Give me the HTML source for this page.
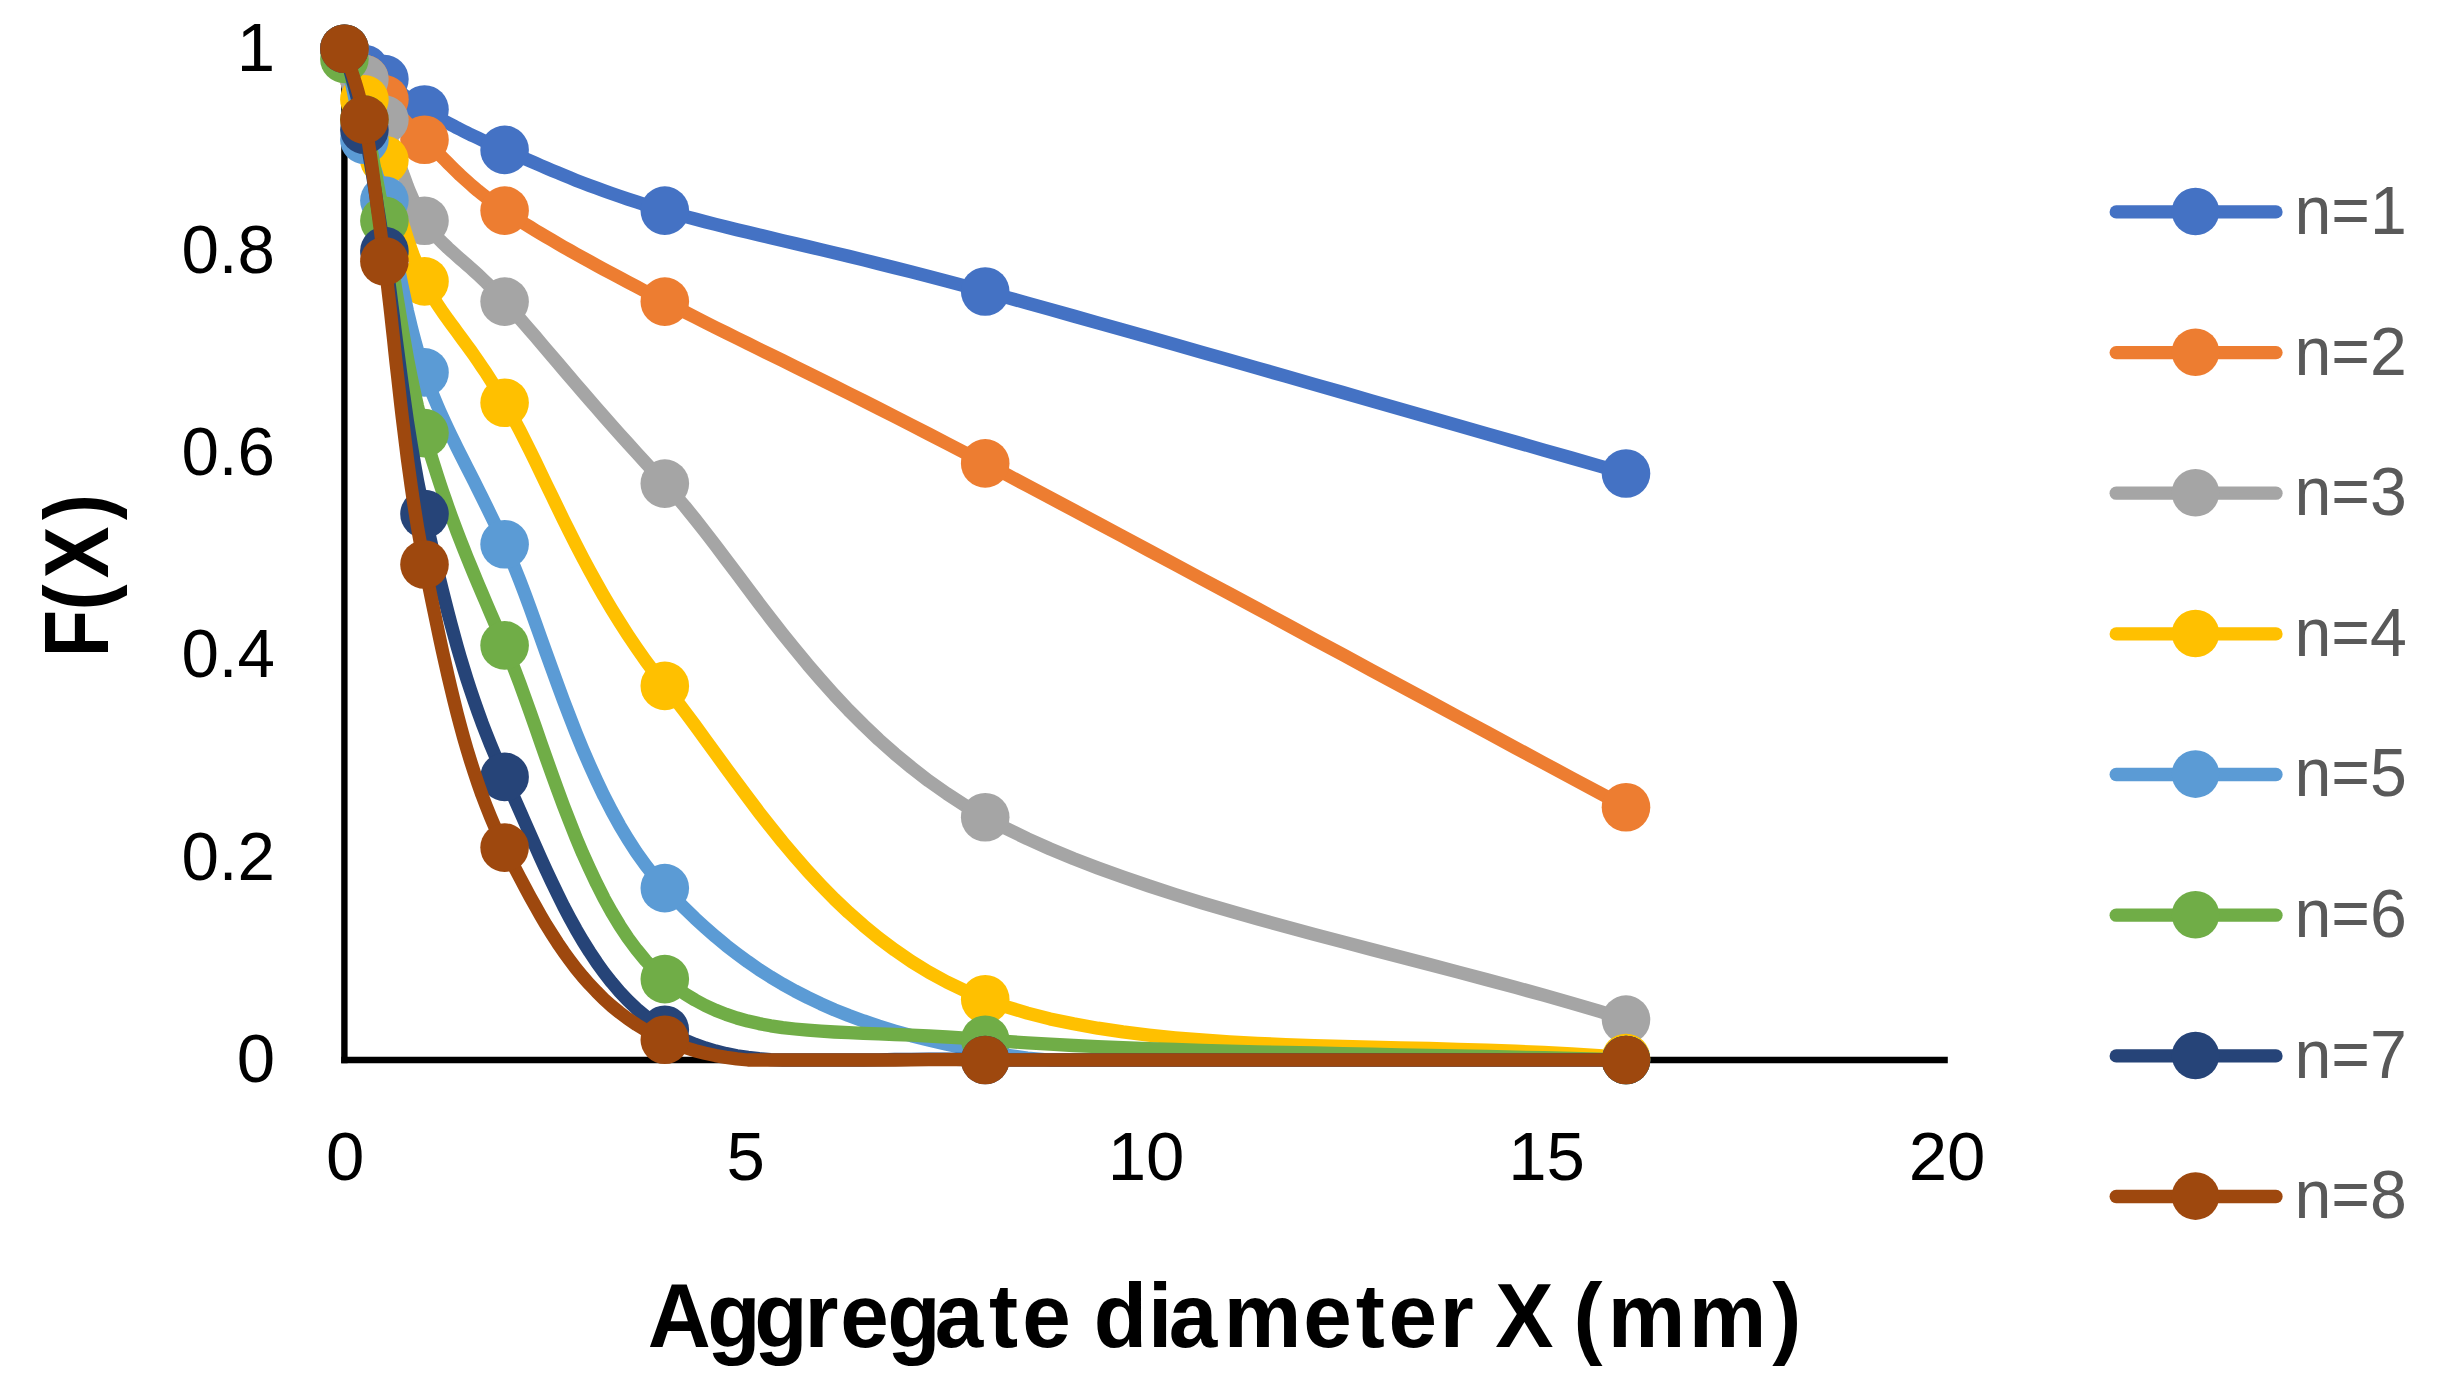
<!DOCTYPE html>
<html lang="en"><head><meta charset="utf-8"><title>F(X) vs Aggregate diameter X (mm)</title>
<style>
html,body{margin:0;padding:0;background:#fff;}
body{width:2437px;height:1379px;overflow:hidden;}
svg{display:block;}
text{font-family:"Liberation Sans",sans-serif;}
.tick{font-size:69px;fill:#000;}
.leg{font-size:69px;fill:#595959;}
.ttl{font-size:90px;font-weight:bold;fill:#000;}
</style></head><body>
<svg width="2437" height="1379" viewBox="0 0 2437 1379" role="img" aria-label="F(X) versus aggregate diameter X (mm) for n=1 to n=8">
<rect width="2437" height="1379" fill="#fff"/>
<g stroke="#000" stroke-width="6.40" fill="none" stroke-linecap="butt">
<line x1="344.4" y1="48.8" x2="344.4" y2="1063.2"/>
<line x1="341.2" y1="1060.0" x2="1947.8" y2="1060.0"/>
</g>
<g class="tick" text-anchor="end">
<text x="275.0" y="70.6">1</text>
<text x="275.0" y="272.8" textLength="93.6" lengthAdjust="spacingAndGlyphs">0.8</text>
<text x="275.0" y="475.1" textLength="93.6" lengthAdjust="spacingAndGlyphs">0.6</text>
<text x="275.0" y="677.3" textLength="93.6" lengthAdjust="spacingAndGlyphs">0.4</text>
<text x="275.0" y="879.6" textLength="93.6" lengthAdjust="spacingAndGlyphs">0.2</text>
<text x="275.0" y="1081.8">0</text>
</g>
<g class="tick" text-anchor="middle">
<text x="345.1" y="1179.6">0</text>
<text x="745.6" y="1179.6">5</text>
<text x="1146.1" y="1179.6">10</text>
<text x="1546.6" y="1179.6">15</text>
<text x="1947.1" y="1179.6">20</text>
</g>
<text class="ttl" id="xt" transform="translate(0 1346.7) scale(0.970 1)" y="0" x="667.9 729.2 777.7 829.4 866.2 914.8 963.8 1019.5 1053.9 1093.9 1127.5 1183.5 1205.0 1261.6 1343.6 1397.7 1431.4 1484.2 1524.2 1541.6 1581.6 1622.1 1657.4 1740.9 1827.1">Aggregate diameter X (mm)</text>
<text class="ttl" id="yt" transform="translate(108.1 660.0) rotate(-90) scale(0.860 1)" y="0" x="3.3 57.9 95.2 162.7">F(X)</text>
<g fill="#4472C4" stroke="none">
<path d="M344.4 48.8 L345.2 49.7 L346.1 50.5 L346.9 51.4 L347.7 52.3 L348.6 53.2 L349.4 54.1 L350.2 55 L351.1 55.9 L351.9 56.8 L352.7 57.7 L353.6 58.6 L354.4 59.5 L355.2 60.4 L356.1 61.3 L356.9 62.2 L357.7 63 L358.6 63.9 L359.4 64.7 L360.3 65.5 L361.1 66.2 L361.9 67 L362.8 67.7 L363.6 68.4 L364.4 69 L365.2 69.6 L366 70.2 L366.8 70.6 L367.5 71.1 L368.3 71.4 L369 71.8 L369.7 72.1 L370.4 72.4 L371.1 72.7 L371.8 72.9 L372.5 73.2 L373.2 73.4 L373.9 73.7 L374.7 74 L375.5 74.3 L376.3 74.6 L377.1 75 L378 75.4 L379 75.9 L380 76.4 L381 77 L382.1 77.6 L383.2 78.3 L384.4 79.1 L385.7 80 L387 80.9 L388.2 81.9 L389.5 82.9 L390.8 84 L392.1 85.1 L393.5 86.2 L394.8 87.4 L396.2 88.6 L397.7 89.8 L399.2 91.1 L400.7 92.4 L402.3 93.7 L404 95.1 L405.7 96.5 L407.4 97.9 L409.3 99.3 L411.2 100.7 L413.2 102.1 L415.3 103.6 L417.4 105.1 L419.7 106.5 L422 108 L424.5 109.5 L427 110.9 L429.5 112.4 L432 113.9 L434.6 115.4 L437.2 116.9 L439.8 118.4 L442.5 119.9 L445.3 121.5 L448.1 123 L451 124.6 L454 126.2 L457 127.8 L460.2 129.4 L463.5 131.1 L466.9 132.8 L470.5 134.6 L474.2 136.3 L478 138.1 L482 140 L486.2 141.9 L490.5 143.8 L495 145.8 L499.7 147.8 L504.6 149.9 L509.6 152 L514.6 154.2 L519.7 156.4 L524.8 158.6 L530 160.9 L535.3 163.2 L540.6 165.5 L546.1 167.9 L551.8 170.3 L557.6 172.7 L563.5 175.2 L569.7 177.7 L576 180.3 L582.6 182.9 L589.5 185.5 L596.6 188.1 L603.9 190.8 L611.6 193.5 L619.6 196.3 L627.9 199.1 L636.6 201.9 L645.6 204.8 L655 207.7 L664.8 210.6 L674.8 213.5 L684.9 216.3 L695 219 L705.2 221.7 L715.6 224.4 L726.1 227 L736.9 229.7 L747.9 232.3 L759.1 235 L770.7 237.7 L782.6 240.6 L795 243.5 L807.7 246.5 L820.9 249.6 L834.5 252.9 L848.7 256.3 L863.5 259.9 L878.8 263.7 L894.8 267.7 L911.4 271.9 L928.7 276.4 L946.8 281.1 L965.6 286.2 L985.2 291.5 L1005.8 297.1 L1027.4 303.1 L1050 309.4 L1073.5 316 L1097.8 322.8 L1122.9 329.9 L1148.7 337.2 L1175.1 344.7 L1202 352.3 L1229.5 360.2 L1257.4 368.1 L1285.6 376.2 L1314.1 384.3 L1342.8 392.5 L1371.6 400.8 L1400.5 409.1 L1429.4 417.4 L1458.3 425.6 L1487 433.8 L1515.5 442 L1543.7 450.1 L1571.6 458 L1599 465.8 L1626 473.5" fill="none" stroke="#4472C4" stroke-width="13.3" stroke-linejoin="round" stroke-linecap="round"/>
<circle cx="344.4" cy="48.8" r="24.3"/>
<circle cx="364.4" cy="69.0" r="24.3"/>
<circle cx="384.4" cy="79.1" r="24.3"/>
<circle cx="424.5" cy="109.5" r="24.3"/>
<circle cx="504.6" cy="149.9" r="24.3"/>
<circle cx="664.8" cy="210.6" r="24.3"/>
<circle cx="985.2" cy="291.5" r="24.3"/>
<circle cx="1626.0" cy="473.5" r="24.3"/>
</g>
<g fill="#ED7D31" stroke="none">
<path d="M344.4 48.8 L345.2 50.1 L346.1 51.4 L346.9 52.7 L347.7 54 L348.6 55.3 L349.4 56.6 L350.2 58 L351.1 59.3 L351.9 60.6 L352.7 62 L353.6 63.3 L354.4 64.6 L355.2 65.9 L356.1 67.2 L356.9 68.5 L357.7 69.8 L358.6 71 L359.4 72.3 L360.3 73.5 L361.1 74.7 L361.9 75.8 L362.8 77 L363.6 78.1 L364.4 79.1 L365.2 80.2 L366 81.1 L366.8 82 L367.5 82.9 L368.3 83.7 L369 84.4 L369.7 85.2 L370.4 85.9 L371.1 86.6 L371.8 87.3 L372.5 87.9 L373.2 88.6 L373.9 89.3 L374.7 90 L375.5 90.7 L376.3 91.5 L377.1 92.3 L378 93.1 L379 94 L380 94.9 L381 95.9 L382.1 97 L383.2 98.1 L384.4 99.4 L385.7 100.6 L387 101.9 L388.2 103.2 L389.5 104.6 L390.8 105.9 L392.1 107.3 L393.5 108.8 L394.8 110.2 L396.2 111.7 L397.7 113.2 L399.2 114.8 L400.7 116.4 L402.3 118.1 L404 119.8 L405.7 121.5 L407.4 123.3 L409.3 125.2 L411.2 127.1 L413.2 129.1 L415.3 131.1 L417.4 133.2 L419.7 135.3 L422 137.5 L424.5 139.8 L427 142.2 L429.5 144.6 L432 147.1 L434.6 149.6 L437.2 152.2 L439.8 154.9 L442.5 157.6 L445.3 160.4 L448.1 163.2 L451 166.1 L454 169.1 L457 172 L460.2 175.1 L463.5 178.1 L466.9 181.2 L470.5 184.4 L474.2 187.6 L478 190.8 L482 194 L486.2 197.3 L490.5 200.6 L495 203.9 L499.7 207.2 L504.6 210.6 L509.6 213.9 L514.6 217.2 L519.7 220.5 L524.8 223.8 L530 227 L535.3 230.3 L540.6 233.5 L546.1 236.8 L551.8 240.1 L557.6 243.5 L563.5 246.9 L569.7 250.4 L576 254 L582.6 257.6 L589.5 261.4 L596.6 265.3 L603.9 269.3 L611.6 273.4 L619.6 277.7 L627.9 282.1 L636.6 286.7 L645.6 291.5 L655 296.4 L664.8 301.6 L674.8 306.8 L684.9 312 L695 317.2 L705.2 322.4 L715.6 327.6 L726.1 332.8 L736.9 338.1 L747.9 343.5 L759.1 349.1 L770.7 354.8 L782.6 360.6 L795 366.7 L807.7 373 L820.9 379.5 L834.5 386.3 L848.7 393.4 L863.5 400.8 L878.8 408.5 L894.8 416.6 L911.4 425.1 L928.7 434 L946.8 443.3 L965.6 453.1 L985.2 463.4 L1005.8 474.2 L1027.4 485.7 L1050 497.7 L1073.5 510.2 L1097.8 523.1 L1122.9 536.5 L1148.7 550.4 L1175.1 564.5 L1202 579 L1229.5 593.7 L1257.4 608.7 L1285.6 623.9 L1314.1 639.3 L1342.8 654.7 L1371.6 670.3 L1400.5 685.9 L1429.4 701.4 L1458.3 717 L1487 732.4 L1515.5 747.8 L1543.7 763 L1571.6 778 L1599 792.7 L1626 807.2" fill="none" stroke="#ED7D31" stroke-width="13.3" stroke-linejoin="round" stroke-linecap="round"/>
<circle cx="344.4" cy="48.8" r="24.3"/>
<circle cx="364.4" cy="79.1" r="24.3"/>
<circle cx="384.4" cy="99.4" r="24.3"/>
<circle cx="424.5" cy="139.8" r="24.3"/>
<circle cx="504.6" cy="210.6" r="24.3"/>
<circle cx="664.8" cy="301.6" r="24.3"/>
<circle cx="985.2" cy="463.4" r="24.3"/>
<circle cx="1626.0" cy="807.2" r="24.3"/>
</g>
<g fill="#A5A5A5" stroke="none">
<path d="M344.4 48.8 L345.2 50.1 L346.1 51.3 L346.9 52.5 L347.7 53.7 L348.6 54.9 L349.4 56.1 L350.2 57.3 L351.1 58.5 L351.9 59.7 L352.7 60.9 L353.6 62.1 L354.4 63.3 L355.2 64.6 L356.1 65.8 L356.9 67 L357.7 68.3 L358.6 69.5 L359.4 70.8 L360.3 72.2 L361.1 73.5 L361.9 74.9 L362.8 76.3 L363.6 77.7 L364.4 79.1 L365.2 80.6 L366 82 L366.8 83.3 L367.5 84.6 L368.3 85.9 L369 87.1 L369.7 88.4 L370.4 89.6 L371.1 90.9 L371.8 92.2 L372.5 93.5 L373.2 94.9 L373.9 96.4 L374.7 97.9 L375.5 99.5 L376.3 101.2 L377.1 103 L378 105 L379 107 L380 109.2 L381 111.6 L382.1 114.1 L383.2 116.7 L384.4 119.6 L385.7 122.7 L387 126 L388.2 129.5 L389.5 133.2 L390.8 137 L392.1 141.1 L393.5 145.2 L394.8 149.5 L396.2 153.9 L397.7 158.4 L399.2 163 L400.7 167.6 L402.3 172.3 L404 176.9 L405.7 181.6 L407.4 186.2 L409.3 190.9 L411.2 195.4 L413.2 199.9 L415.3 204.3 L417.4 208.6 L419.7 212.8 L422 216.8 L424.5 220.7 L427 224.4 L429.5 227.8 L432 231.1 L434.6 234.2 L437.2 237.1 L439.8 240 L442.5 242.7 L445.3 245.4 L448.1 248.1 L451 250.7 L454 253.4 L457 256.1 L460.2 258.9 L463.5 261.7 L466.9 264.7 L470.5 267.9 L474.2 271.2 L478 274.7 L482 278.5 L486.2 282.5 L490.5 286.8 L495 291.4 L499.7 296.3 L504.6 301.6 L509.6 307.1 L514.6 312.7 L519.7 318.5 L524.8 324.3 L530 330.3 L535.3 336.4 L540.6 342.7 L546.1 349.2 L551.8 355.8 L557.6 362.6 L563.5 369.6 L569.7 376.8 L576 384.2 L582.6 391.9 L589.5 399.8 L596.6 408 L603.9 416.4 L611.6 425.1 L619.6 434.1 L627.9 443.3 L636.6 452.9 L645.6 462.8 L655 473 L664.8 483.6 L674.8 494.7 L684.9 506.5 L695 519 L705.2 532 L715.6 545.5 L726.1 559.5 L736.9 573.8 L747.9 588.5 L759.1 603.4 L770.7 618.6 L782.6 633.8 L795 649.2 L807.7 664.6 L820.9 679.9 L834.5 695.1 L848.7 710.2 L863.5 725 L878.8 739.6 L894.8 753.8 L911.4 767.5 L928.7 780.9 L946.8 793.6 L965.6 805.8 L985.2 817.3 L1005.8 828.3 L1027.4 838.8 L1050 848.9 L1073.5 858.6 L1097.8 868 L1122.9 877.1 L1148.7 885.9 L1175.1 894.5 L1202 902.8 L1229.5 910.9 L1257.4 918.8 L1285.6 926.6 L1314.1 934.3 L1342.8 941.9 L1371.6 949.5 L1400.5 957 L1429.4 964.5 L1458.3 972.1 L1487 979.7 L1515.5 987.4 L1543.7 995.2 L1571.6 1003.1 L1599 1011.2 L1626 1019.6" fill="none" stroke="#A5A5A5" stroke-width="13.3" stroke-linejoin="round" stroke-linecap="round"/>
<circle cx="344.4" cy="48.8" r="24.3"/>
<circle cx="364.4" cy="79.1" r="24.3"/>
<circle cx="384.4" cy="119.6" r="24.3"/>
<circle cx="424.5" cy="220.7" r="24.3"/>
<circle cx="504.6" cy="301.6" r="24.3"/>
<circle cx="664.8" cy="483.6" r="24.3"/>
<circle cx="985.2" cy="817.3" r="24.3"/>
<circle cx="1626.0" cy="1019.6" r="24.3"/>
</g>
<g fill="#FFC000" stroke="none">
<path d="M344.4 48.8 L345.2 50.9 L346.1 53 L346.9 55.1 L347.7 57.1 L348.6 59.2 L349.4 61.2 L350.2 63.2 L351.1 65.3 L351.9 67.3 L352.7 69.4 L353.6 71.4 L354.4 73.4 L355.2 75.5 L356.1 77.6 L356.9 79.7 L357.7 81.8 L358.6 83.9 L359.4 86 L360.3 88.2 L361.1 90.3 L361.9 92.6 L362.8 94.8 L363.6 97.1 L364.4 99.4 L365.2 101.6 L366 103.9 L366.8 106 L367.5 108.2 L368.3 110.3 L369 112.4 L369.7 114.5 L370.4 116.6 L371.1 118.7 L371.8 120.9 L372.5 123 L373.2 125.3 L373.9 127.6 L374.7 129.9 L375.5 132.4 L376.3 134.9 L377.1 137.6 L378 140.4 L379 143.3 L380 146.3 L381 149.5 L382.1 152.8 L383.2 156.3 L384.4 160 L385.7 163.9 L387 168 L388.2 172.3 L389.5 176.7 L390.8 181.4 L392.1 186.1 L393.5 191 L394.8 196 L396.2 201.1 L397.7 206.3 L399.2 211.6 L400.7 216.9 L402.3 222.3 L404 227.7 L405.7 233.2 L407.4 238.7 L409.3 244.2 L411.2 249.6 L413.2 255.1 L415.3 260.4 L417.4 265.8 L419.7 271.1 L422 276.3 L424.5 281.4 L427 286.3 L429.5 291 L432 295.4 L434.6 299.7 L437.2 303.9 L439.8 307.9 L442.5 311.9 L445.3 315.8 L448.1 319.8 L451 323.7 L454 327.8 L457 331.9 L460.2 336.2 L463.5 340.7 L466.9 345.4 L470.5 350.3 L474.2 355.5 L478 361 L482 366.9 L486.2 373.1 L490.5 379.8 L495 386.9 L499.7 394.6 L504.6 402.7 L509.6 411.4 L514.6 420.6 L519.7 430.2 L524.8 440.2 L530 450.6 L535.3 461.4 L540.6 472.5 L546.1 484 L551.8 495.7 L557.6 507.7 L563.5 519.9 L569.7 532.3 L576 544.8 L582.6 557.5 L589.5 570.3 L596.6 583.2 L603.9 596.2 L611.6 609.1 L619.6 622.1 L627.9 635 L636.6 647.9 L645.6 660.7 L655 673.3 L664.8 685.9 L674.8 698.5 L684.9 711.7 L695 725.3 L705.2 739.3 L715.6 753.6 L726.1 768.1 L736.9 782.7 L747.9 797.5 L759.1 812.4 L770.7 827.2 L782.6 842 L795 856.6 L807.7 871.1 L820.9 885.2 L834.5 899.1 L848.7 912.6 L863.5 925.6 L878.8 938.2 L894.8 950.1 L911.4 961.5 L928.7 972.1 L946.8 982 L965.6 991.1 L985.2 999.3 L1005.8 1006.6 L1027.4 1013.1 L1050 1018.9 L1073.5 1023.8 L1097.8 1028.2 L1122.9 1031.9 L1148.7 1035.1 L1175.1 1037.8 L1202 1040 L1229.5 1041.8 L1257.4 1043.3 L1285.6 1044.6 L1314.1 1045.6 L1342.8 1046.4 L1371.6 1047.2 L1400.5 1047.9 L1429.4 1048.5 L1458.3 1049.3 L1487 1050.1 L1515.5 1051.2 L1543.7 1052.4 L1571.6 1053.9 L1599 1055.7 L1626 1058" fill="none" stroke="#FFC000" stroke-width="13.3" stroke-linejoin="round" stroke-linecap="round"/>
<circle cx="344.4" cy="48.8" r="24.3"/>
<circle cx="364.4" cy="99.4" r="24.3"/>
<circle cx="384.4" cy="160.0" r="24.3"/>
<circle cx="424.5" cy="281.4" r="24.3"/>
<circle cx="504.6" cy="402.7" r="24.3"/>
<circle cx="664.8" cy="685.9" r="24.3"/>
<circle cx="985.2" cy="999.3" r="24.3"/>
<circle cx="1626.0" cy="1058.0" r="24.3"/>
</g>
<g fill="#5B9BD5" stroke="none">
<path d="M344.4 48.8 L345.2 52.6 L346.1 56.5 L346.9 60.4 L347.7 64.3 L348.6 68.3 L349.4 72.3 L350.2 76.3 L351.1 80.3 L351.9 84.3 L352.7 88.3 L353.6 92.2 L354.4 96.2 L355.2 100.1 L356.1 104 L356.9 107.9 L357.7 111.7 L358.6 115.5 L359.4 119.2 L360.3 122.8 L361.1 126.4 L361.9 129.9 L362.8 133.3 L363.6 136.6 L364.4 139.8 L365.2 142.8 L366 145.6 L366.8 148.1 L367.5 150.4 L368.3 152.5 L369 154.5 L369.7 156.4 L370.4 158.2 L371.1 159.9 L371.8 161.6 L372.5 163.3 L373.2 165.1 L373.9 166.9 L374.7 168.9 L375.5 170.9 L376.3 173.1 L377.1 175.6 L378 178.2 L379 181.1 L380 184.3 L381 187.8 L382.1 191.6 L383.2 195.8 L384.4 200.5 L385.7 205.5 L387 210.9 L388.2 216.6 L389.5 222.7 L390.8 229 L392.1 235.6 L393.5 242.5 L394.8 249.5 L396.2 256.8 L397.7 264.2 L399.2 271.8 L400.7 279.5 L402.3 287.3 L404 295.1 L405.7 303 L407.4 311 L409.3 318.9 L411.2 326.8 L413.2 334.7 L415.3 342.4 L417.4 350.1 L419.7 357.7 L422 365.1 L424.5 372.4 L427 379.4 L429.5 386.2 L432 392.7 L434.6 399 L437.2 405.2 L439.8 411.3 L442.5 417.3 L445.3 423.3 L448.1 429.3 L451 435.3 L454 441.4 L457 447.6 L460.2 453.9 L463.5 460.5 L466.9 467.2 L470.5 474.3 L474.2 481.6 L478 489.2 L482 497.3 L486.2 505.7 L490.5 514.6 L495 523.9 L499.7 533.8 L504.6 544.3 L509.6 555.5 L514.6 567.5 L519.7 580.3 L524.8 593.7 L530 607.8 L535.3 622.4 L540.6 637.4 L546.1 652.8 L551.8 668.5 L557.6 684.5 L563.5 700.5 L569.7 716.7 L576 732.8 L582.6 748.9 L589.5 764.8 L596.6 780.5 L603.9 795.8 L611.6 810.8 L619.6 825.3 L627.9 839.2 L636.6 852.6 L645.6 865.2 L655 877.1 L664.8 888.1 L674.8 898.5 L684.9 908.5 L695 918.3 L705.2 927.6 L715.6 936.7 L726.1 945.4 L736.9 953.7 L747.9 961.8 L759.1 969.6 L770.7 977 L782.6 984.1 L795 991 L807.7 997.5 L820.9 1003.8 L834.5 1009.8 L848.7 1015.5 L863.5 1020.9 L878.8 1026.1 L894.8 1031 L911.4 1035.7 L928.7 1040.1 L946.8 1044.3 L965.6 1048.2 L985.2 1051.9 L1005.8 1055.2 L1027.4 1058 L1050 1060 L1073.5 1060 L1097.8 1060 L1122.9 1060 L1148.7 1060 L1175.1 1060 L1202 1060 L1229.5 1060 L1257.4 1060 L1285.6 1060 L1314.1 1060 L1342.8 1060 L1371.6 1060 L1400.5 1060 L1429.4 1060 L1458.3 1060 L1487 1060 L1515.5 1060 L1543.7 1060 L1571.6 1059.8 L1599 1059.8 L1626 1060" fill="none" stroke="#5B9BD5" stroke-width="13.3" stroke-linejoin="round" stroke-linecap="round"/>
<circle cx="344.4" cy="48.8" r="24.3"/>
<circle cx="364.4" cy="139.8" r="24.3"/>
<circle cx="384.4" cy="200.5" r="24.3"/>
<circle cx="424.5" cy="372.4" r="24.3"/>
<circle cx="504.6" cy="544.3" r="24.3"/>
<circle cx="664.8" cy="888.1" r="24.3"/>
<circle cx="985.2" cy="1051.9" r="24.3"/>
<circle cx="1626.0" cy="1060.0" r="24.3"/>
</g>
<g fill="#70AD47" stroke="none">
<path d="M344.4 58.9 L345.2 61.4 L346.1 63.8 L346.9 66.2 L347.7 68.6 L348.6 70.9 L349.4 73.1 L350.2 75.4 L351.1 77.6 L351.9 79.9 L352.7 82.1 L353.6 84.4 L354.4 86.7 L355.2 89.1 L356.1 91.4 L356.9 93.9 L357.7 96.4 L358.6 98.9 L359.4 101.6 L360.3 104.3 L361.1 107.1 L361.9 110.1 L362.8 113.1 L363.6 116.3 L364.4 119.6 L365.2 122.9 L366 126.2 L366.8 129.5 L367.5 132.8 L368.3 136.1 L369 139.4 L369.7 142.8 L370.4 146.2 L371.1 149.7 L371.8 153.2 L372.5 156.9 L373.2 160.7 L373.9 164.6 L374.7 168.6 L375.5 172.9 L376.3 177.3 L377.1 181.9 L378 186.7 L379 191.7 L380 196.9 L381 202.5 L382.1 208.3 L383.2 214.3 L384.4 220.7 L385.7 227.4 L387 234.5 L388.2 241.9 L389.5 249.7 L390.8 257.7 L392.1 266 L393.5 274.5 L394.8 283.2 L396.2 292.2 L397.7 301.3 L399.2 310.6 L400.7 319.9 L402.3 329.4 L404 338.9 L405.7 348.5 L407.4 358.2 L409.3 367.8 L411.2 377.4 L413.2 386.9 L415.3 396.4 L417.4 405.8 L419.7 415 L422 424.1 L424.5 433.1 L427 441.8 L429.5 450.4 L432 458.8 L434.6 467 L437.2 475.2 L439.8 483.3 L442.5 491.3 L445.3 499.3 L448.1 507.4 L451 515.4 L454 523.5 L457 531.6 L460.2 539.9 L463.5 548.3 L466.9 556.9 L470.5 565.6 L474.2 574.6 L478 583.8 L482 593.2 L486.2 603 L490.5 613.1 L495 623.5 L499.7 634.2 L504.6 645.4 L509.6 657.2 L514.6 669.8 L519.7 683.2 L524.8 697.2 L530 711.7 L535.3 726.7 L540.6 742.1 L546.1 757.8 L551.8 773.7 L557.6 789.7 L563.5 805.7 L569.7 821.7 L576 837.6 L582.6 853.3 L589.5 868.6 L596.6 883.6 L603.9 898.1 L611.6 912 L619.6 925.3 L627.9 937.9 L636.6 949.6 L645.6 960.5 L655 970.3 L664.8 979.1 L674.8 986.9 L684.9 993.8 L695 1000 L705.2 1005.5 L715.6 1010.3 L726.1 1014.4 L736.9 1018 L747.9 1021.1 L759.1 1023.6 L770.7 1025.8 L782.6 1027.6 L795 1029 L807.7 1030.2 L820.9 1031.2 L834.5 1032 L848.7 1032.7 L863.5 1033.3 L878.8 1033.9 L894.8 1034.5 L911.4 1035.2 L928.7 1036 L946.8 1037 L965.6 1038.2 L985.2 1039.8 L1005.8 1041.4 L1027.4 1042.9 L1050 1044.2 L1073.5 1045.5 L1097.8 1046.6 L1122.9 1047.7 L1148.7 1048.6 L1175.1 1049.5 L1202 1050.3 L1229.5 1051.1 L1257.4 1051.8 L1285.6 1052.4 L1314.1 1053 L1342.8 1053.6 L1371.6 1054.2 L1400.5 1054.8 L1429.4 1055.3 L1458.3 1055.9 L1487 1056.5 L1515.5 1057.1 L1543.7 1057.7 L1571.6 1058.4 L1599 1059.2 L1626 1060" fill="none" stroke="#70AD47" stroke-width="13.3" stroke-linejoin="round" stroke-linecap="round"/>
<circle cx="344.4" cy="58.9" r="24.3"/>
<circle cx="364.4" cy="119.6" r="24.3"/>
<circle cx="384.4" cy="220.7" r="24.3"/>
<circle cx="424.5" cy="433.1" r="24.3"/>
<circle cx="504.6" cy="645.4" r="24.3"/>
<circle cx="664.8" cy="979.1" r="24.3"/>
<circle cx="985.2" cy="1039.8" r="24.3"/>
<circle cx="1626.0" cy="1060.0" r="24.3"/>
</g>
<g fill="#264478" stroke="none">
<path d="M344.4 48.8 L345.2 52.1 L346.1 55.4 L346.9 58.6 L347.7 61.8 L348.6 65 L349.4 68.1 L350.2 71.2 L351.1 74.3 L351.9 77.4 L352.7 80.5 L353.6 83.6 L354.4 86.7 L355.2 89.9 L356.1 93.1 L356.9 96.4 L357.7 99.7 L358.6 103.1 L359.4 106.6 L360.3 110.2 L361.1 113.9 L361.9 117.6 L362.8 121.5 L363.6 125.6 L364.4 129.7 L365.2 133.9 L366 137.9 L366.8 142 L367.5 145.9 L368.3 149.9 L369 153.9 L369.7 157.9 L370.4 161.9 L371.1 166 L371.8 170.2 L372.5 174.5 L373.2 179 L373.9 183.6 L374.7 188.4 L375.5 193.4 L376.3 198.6 L377.1 204.1 L378 209.8 L379 215.8 L380 222.2 L381 228.8 L382.1 235.8 L383.2 243.2 L384.4 251 L385.7 259.3 L387 268 L388.2 277.1 L389.5 286.7 L390.8 296.6 L392.1 306.8 L393.5 317.4 L394.8 328.2 L396.2 339.3 L397.7 350.6 L399.2 362 L400.7 373.6 L402.3 385.4 L404 397.2 L405.7 409.1 L407.4 421.1 L409.3 433 L411.2 444.9 L413.2 456.7 L415.3 468.5 L417.4 480.1 L419.7 491.6 L422 502.9 L424.5 514 L427 524.9 L429.5 535.9 L432 546.9 L434.6 557.9 L437.2 568.9 L439.8 579.9 L442.5 590.9 L445.3 602 L448.1 613 L451 624 L454 635 L457 646 L460.2 657 L463.5 668 L466.9 679 L470.5 690 L474.2 700.9 L478 711.8 L482 722.8 L486.2 733.6 L490.5 744.5 L495 755.3 L499.7 766.1 L504.6 776.9 L509.6 787.8 L514.6 799 L519.7 810.5 L524.8 822.2 L530 834 L535.3 846 L540.6 858 L546.1 870.1 L551.8 882.2 L557.6 894.2 L563.5 906.1 L569.7 917.8 L576 929.3 L582.6 940.6 L589.5 951.6 L596.6 962.3 L603.9 972.5 L611.6 982.3 L619.6 991.7 L627.9 1000.5 L636.6 1008.8 L645.6 1016.4 L655 1023.4 L664.8 1029.7 L674.8 1035.2 L684.9 1040.1 L695 1044.3 L705.2 1047.9 L715.6 1051 L726.1 1053.6 L736.9 1055.7 L747.9 1057.4 L759.1 1058.7 L770.7 1059.6 L782.6 1060 L795 1060 L807.7 1060 L820.9 1060 L834.5 1060 L848.7 1060 L863.5 1060 L878.8 1059.8 L894.8 1059.5 L911.4 1059.3 L928.7 1059.2 L946.8 1059.2 L965.6 1059.5 L985.2 1060 L1005.8 1060 L1027.4 1060 L1050 1060 L1073.5 1060 L1097.8 1060 L1122.9 1060 L1148.7 1060 L1175.1 1060 L1202 1060 L1229.5 1060 L1257.4 1060 L1285.6 1060 L1314.1 1060 L1342.8 1060 L1371.6 1060 L1400.5 1060 L1429.4 1060 L1458.3 1060 L1487 1060 L1515.5 1060 L1543.7 1060 L1571.6 1060 L1599 1060 L1626 1060" fill="none" stroke="#264478" stroke-width="13.3" stroke-linejoin="round" stroke-linecap="round"/>
<circle cx="344.4" cy="48.8" r="24.3"/>
<circle cx="364.4" cy="129.7" r="24.3"/>
<circle cx="384.4" cy="251.0" r="24.3"/>
<circle cx="424.5" cy="514.0" r="24.3"/>
<circle cx="504.6" cy="776.9" r="24.3"/>
<circle cx="664.8" cy="1029.7" r="24.3"/>
<circle cx="985.2" cy="1060.0" r="24.3"/>
<circle cx="1626.0" cy="1060.0" r="24.3"/>
</g>
<g fill="#9E480E" stroke="none">
<path d="M344.4 48.8 L345.2 51.7 L346.1 54.5 L346.9 57.2 L347.7 59.8 L348.6 62.3 L349.4 64.8 L350.2 67.3 L351.1 69.8 L351.9 72.2 L352.7 74.7 L353.6 77.2 L354.4 79.8 L355.2 82.4 L356.1 85.1 L356.9 87.9 L357.7 90.7 L358.6 93.8 L359.4 96.9 L360.3 100.2 L361.1 103.7 L361.9 107.3 L362.8 111.2 L363.6 115.3 L364.4 119.6 L365.2 124 L366 128.4 L366.8 132.8 L367.5 137.2 L368.3 141.7 L369 146.2 L369.7 150.8 L370.4 155.5 L371.1 160.4 L371.8 165.4 L372.5 170.5 L373.2 175.8 L373.9 181.4 L374.7 187.1 L375.5 193.1 L376.3 199.4 L377.1 205.9 L378 212.7 L379 219.9 L380 227.4 L381 235.2 L382.1 243.5 L383.2 252.1 L384.4 261.2 L385.7 270.7 L387 280.8 L388.2 291.5 L389.5 302.6 L390.8 314.1 L392.1 326.1 L393.5 338.4 L394.8 351 L396.2 364 L397.7 377.1 L399.2 390.5 L400.7 404 L402.3 417.6 L404 431.4 L405.7 445.1 L407.4 458.9 L409.3 472.6 L411.2 486.3 L413.2 499.9 L415.3 513.2 L417.4 526.5 L419.7 539.4 L422 552.1 L424.5 564.5 L427 576.8 L429.5 589.1 L432 601.5 L434.6 613.9 L437.2 626.4 L439.8 638.9 L442.5 651.3 L445.3 663.8 L448.1 676.2 L451 688.5 L454 700.8 L457 713 L460.2 725.1 L463.5 737.2 L466.9 749 L470.5 760.8 L474.2 772.3 L478 783.7 L482 795 L486.2 806 L490.5 816.7 L495 827.3 L499.7 837.6 L504.6 847.6 L509.6 857.5 L514.6 867.4 L519.7 877.2 L524.8 886.9 L530 896.6 L535.3 906.1 L540.6 915.5 L546.1 924.8 L551.8 933.9 L557.6 942.9 L563.5 951.6 L569.7 960.1 L576 968.5 L582.6 976.5 L589.5 984.3 L596.6 991.8 L603.9 999.1 L611.6 1006 L619.6 1012.5 L627.9 1018.8 L636.6 1024.6 L645.6 1030.1 L655 1035.1 L664.8 1039.8 L674.8 1043.9 L684.9 1047.5 L695 1050.7 L705.2 1053.3 L715.6 1055.6 L726.1 1057.4 L736.9 1058.9 L747.9 1060 L759.1 1060 L770.7 1060 L782.6 1060 L795 1060 L807.7 1060 L820.9 1060 L834.5 1060 L848.7 1060 L863.5 1060 L878.8 1060 L894.8 1060 L911.4 1059.8 L928.7 1059.6 L946.8 1059.6 L965.6 1059.7 L985.2 1060 L1005.8 1060 L1027.4 1060 L1050 1060 L1073.5 1060 L1097.8 1060 L1122.9 1060 L1148.7 1060 L1175.1 1060 L1202 1060 L1229.5 1060 L1257.4 1060 L1285.6 1060 L1314.1 1060 L1342.8 1060 L1371.6 1060 L1400.5 1060 L1429.4 1060 L1458.3 1060 L1487 1060 L1515.5 1060 L1543.7 1060 L1571.6 1060 L1599 1060 L1626 1060" fill="none" stroke="#9E480E" stroke-width="13.3" stroke-linejoin="round" stroke-linecap="round"/>
<circle cx="344.4" cy="48.8" r="24.3"/>
<circle cx="364.4" cy="119.6" r="24.3"/>
<circle cx="384.4" cy="261.2" r="24.3"/>
<circle cx="424.5" cy="564.5" r="24.3"/>
<circle cx="504.6" cy="847.6" r="24.3"/>
<circle cx="664.8" cy="1039.8" r="24.3"/>
<circle cx="985.2" cy="1060.0" r="24.3"/>
<circle cx="1626.0" cy="1060.0" r="24.3"/>
</g>
<g>
<line x1="2116.2" y1="211.9" x2="2276" y2="211.9" stroke="#4472C4" stroke-width="13.3" stroke-linecap="round"/>
<circle cx="2195.5" cy="211.5" r="23.8" fill="#4472C4"/>
<text class="leg" x="2294.5" y="233.8" textLength="112.4" lengthAdjust="spacingAndGlyphs">n=1</text>
</g>
<g>
<line x1="2116.2" y1="352.6" x2="2276" y2="352.6" stroke="#ED7D31" stroke-width="13.3" stroke-linecap="round"/>
<circle cx="2195.5" cy="352.2" r="23.8" fill="#ED7D31"/>
<text class="leg" x="2294.5" y="374.5" textLength="112.4" lengthAdjust="spacingAndGlyphs">n=2</text>
</g>
<g>
<line x1="2116.2" y1="493.2" x2="2276" y2="493.2" stroke="#A5A5A5" stroke-width="13.3" stroke-linecap="round"/>
<circle cx="2195.5" cy="492.8" r="23.8" fill="#A5A5A5"/>
<text class="leg" x="2294.5" y="515.1" textLength="112.4" lengthAdjust="spacingAndGlyphs">n=3</text>
</g>
<g>
<line x1="2116.2" y1="633.9" x2="2276" y2="633.9" stroke="#FFC000" stroke-width="13.3" stroke-linecap="round"/>
<circle cx="2195.5" cy="633.5" r="23.8" fill="#FFC000"/>
<text class="leg" x="2294.5" y="655.8" textLength="112.4" lengthAdjust="spacingAndGlyphs">n=4</text>
</g>
<g>
<line x1="2116.2" y1="774.5" x2="2276" y2="774.5" stroke="#5B9BD5" stroke-width="13.3" stroke-linecap="round"/>
<circle cx="2195.5" cy="774.1" r="23.8" fill="#5B9BD5"/>
<text class="leg" x="2294.5" y="796.4" textLength="112.4" lengthAdjust="spacingAndGlyphs">n=5</text>
</g>
<g>
<line x1="2116.2" y1="915.2" x2="2276" y2="915.2" stroke="#70AD47" stroke-width="13.3" stroke-linecap="round"/>
<circle cx="2195.5" cy="914.8" r="23.8" fill="#70AD47"/>
<text class="leg" x="2294.5" y="937.1" textLength="112.4" lengthAdjust="spacingAndGlyphs">n=6</text>
</g>
<g>
<line x1="2116.2" y1="1055.9" x2="2276" y2="1055.9" stroke="#264478" stroke-width="13.3" stroke-linecap="round"/>
<circle cx="2195.5" cy="1055.5" r="23.8" fill="#264478"/>
<text class="leg" x="2294.5" y="1077.8" textLength="112.4" lengthAdjust="spacingAndGlyphs">n=7</text>
</g>
<g>
<line x1="2116.2" y1="1196.5" x2="2276" y2="1196.5" stroke="#9E480E" stroke-width="13.3" stroke-linecap="round"/>
<circle cx="2195.5" cy="1196.1" r="23.8" fill="#9E480E"/>
<text class="leg" x="2294.5" y="1218.4" textLength="112.4" lengthAdjust="spacingAndGlyphs">n=8</text>
</g>
</svg>
</body></html>
